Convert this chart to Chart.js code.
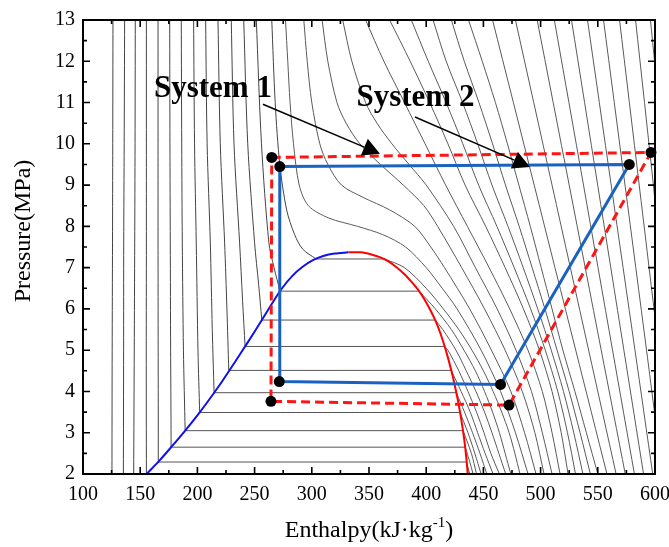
<!DOCTYPE html>
<html lang="en">
<head>
<meta charset="UTF-8">
<title>CO2 p-h diagram</title>
<style>
  html, body { margin: 0; padding: 0; background: #fff; }
  #wrap { width: 669px; height: 547px; }
</style>
</head>
<body>
<div id="wrap"><canvas id="myChart" width="669" height="547"></canvas></div>
<script src="https://cdn.jsdelivr.net/npm/chart.js@4.4.1/dist/chart.umd.min.js"></script>
<script>
// axis ticks
const xMajor = [100, 150, 200, 250, 300, 350, 400, 450, 500, 550, 600]
const xMinor = [125, 175, 225, 275, 325, 375, 425, 475, 525, 575]
const yMajor = [2, 3, 4, 5, 6, 7, 8, 9, 10, 11, 12, 13]
const yMinor = [2.5, 3.5, 4.5, 5.5, 6.5, 7.5, 8.5, 9.5, 10.5, 11.5, 12.5]

// saturation dome [h kJ/kg, p MPa]
const satLiquid = [[155.6, 2], [167, 2.33], [178, 2.68], [189, 3.04], [200, 3.42], [211, 3.83], [222, 4.26], [233, 4.72], [244, 5.19], [255, 5.67], [265, 6.12], [274, 6.5], [283, 6.8], [292, 7.02], [301, 7.18], [310, 7.28], [320, 7.34], [331.9, 7.37]]
const satVapor = [[331.9, 7.37], [343, 7.37], [352, 7.32], [360, 7.25], [367, 7.15], [374, 7.01], [381, 6.84], [387, 6.66], [393, 6.46], [398.5, 6.23], [403.5, 5.98], [408, 5.72], [412, 5.44], [415.7, 5.13], [419, 4.82], [422, 4.5], [424.8, 4.17], [427.4, 3.83], [429.7, 3.48], [431.8, 3.12], [433.6, 2.76], [435.1, 2.38], [436.3, 2]]

// two-phase isotherms (horizontal)
const tieP = [2.29, 2.65, 3.05, 3.49, 3.97, 4.51, 5.09, 5.73, 6.43, 7.21]
const tieHl = [165.8, 177, 189.3, 202, 214.6, 227.4, 241.7, 256.3, 272.3, 303.7]
const tieHv = [435.3, 434.1, 432.2, 429.6, 426.3, 421.9, 416.1, 407.9, 393.8, 363.5]

// liquid side isotherms (-35 .. 30 C)
const liquidIso = [
  [[126.2, 13], [126, 10], [125.8, 7.6], [125.5, 5], [125.3, 2]],
  [[136.4, 13], [136, 10], [135.6, 7.6], [135.5, 5], [135.3, 2]],
  [[145.7, 13], [145.5, 10], [145.2, 7.6], [144.8, 5], [144.3, 2]],
  [[155.4, 13], [155.4, 10], [155.4, 7.6], [155.3, 5], [155.4, 2]],
  [[165.6, 13], [165.6, 10], [165.6, 7.6], [165.7, 5], [165.8, 3.5], [165.8, 2.29]],
  [[175.8, 13], [176, 10], [176.3, 7.6], [176.6, 5], [176.9, 3.5], [177, 2.65]],
  [[185.9, 13], [186.3, 10], [186.8, 7.6], [187.8, 5], [189.3, 3.05]],
  [[196.7, 13], [197.5, 10], [199, 7.6], [200.5, 5], [202, 3.49]],
  [[207.2, 13], [208.5, 10], [211.3, 7.6], [213, 5.5], [214.6, 3.97]],
  [[218, 13], [220, 10], [223.8, 7.6], [225.8, 6], [227.4, 4.51]],
  [[229.6, 13], [232, 10], [236.9, 7.6], [239.5, 6.2], [241.7, 5.09]],
  [[240.5, 13], [244, 10], [250, 7.6], [253.5, 6.6], [256.3, 5.73]],
  [[251.5, 13], [256, 10], [262.5, 7.6], [267, 7], [272.3, 6.43]],
  [[265, 13], [268, 11], [272, 9.5], [278, 8.4], [285, 7.8], [292, 7.45], [303.7, 7.21]]
]

// vapour side isotherms (-15 .. 30 C)
const vaporIso = [
  [[435.3, 2.29], [438, 2]],
  [[434.1, 2.65], [438, 2.3], [441, 2]],
  [[432.2, 3.05], [439.5, 2.5], [444, 2]],
  [[429.6, 3.49], [436.5, 3], [442.5, 2.5], [448, 2]],
  [[426.3, 3.97], [433.5, 3.5], [440.5, 3], [447, 2.5], [453, 2]],
  [[421.9, 4.51], [430.5, 4], [438.5, 3.5], [445, 3], [451.5, 2.5], [458.5, 2]],
  [[416.1, 5.09], [419, 5], [428.5, 4.5], [436.5, 4], [444, 3.5], [450.5, 3], [456.5, 2.5], [464, 2]],
  [[407.9, 5.73], [414.5, 5.5], [426, 5], [435, 4.5], [443.5, 4], [451, 3.5], [457.5, 3], [463.5, 2.5], [469.5, 2]],
  [[393.8, 6.43], [408, 6], [422, 5.5], [433, 5], [443, 4.5], [451, 4], [458, 3.5], [464, 3], [469, 2.5], [474, 2]],
  [[363.5, 7.21], [381, 7], [400, 6.5], [415, 6], [428.5, 5.5], [440, 5], [450, 4.5], [458.5, 4], [466, 3.5], [472.5, 3], [477.5, 2.5], [482, 2]]
]

// supercritical isotherms (35 .. 130 C)
const superIso = [
  [[277, 13], [279, 12], [281, 11], [284, 10], [289, 9], [297, 8.5], [315, 8.2], [340, 8], [362, 7.8], [382, 7.5], [400, 7], [414, 6.5], [427, 6], [448, 5], [465, 4], [478, 3], [489, 2]],
  [[293, 13], [296, 12], [300, 11], [307, 10], [314, 9.5], [326, 9], [345, 8.7], [368, 8.4], [390, 8], [404, 7.5], [416, 7], [438, 6], [457, 5], [474, 4], [486, 3], [496, 2]],
  [[309, 13], [314, 12], [322, 11], [330, 10.5], [342, 10], [360, 9.5], [380, 9], [398, 8.5], [410, 8], [431, 7], [451, 6], [469, 5], [484, 4], [495, 3], [503, 2]],
  [[327, 13], [335, 12], [347, 11], [357, 10.5], [370, 10], [385, 9.5], [400, 9], [424, 8], [443, 7], [462, 6], [478.5, 5], [492, 4], [501.5, 3], [510, 2]],
  [[347, 13], [363, 12], [381, 11], [399, 10], [417, 9], [436, 8], [455, 7], [473, 6], [489, 5], [501.5, 4], [510, 3], [517, 2]],
  [[368, 13], [386, 12], [403, 11], [419, 10], [434, 9], [452, 8], [469, 7], [485, 6], [499, 5], [510, 4], [518, 3], [524, 2]],
  [[387, 13], [401.8, 12], [417.4, 11], [432, 10], [445.8, 9], [461.8, 8], [476.9, 7], [491.3, 6], [504.1, 5], [515, 4], [523.5, 3], [530.5, 2]],
  [[406, 13], [417.5, 12], [431.8, 11], [445, 10], [457.5, 9], [471.5, 8], [484.8, 7], [497.5, 6], [509.3, 5], [520, 4], [529, 3], [537, 2]],
  [[422, 13], [433.3, 12], [446.1, 11], [458, 10], [469.3, 9], [481.3, 8], [492.6, 7], [503.8, 6], [514.4, 5], [525, 4], [534.5, 3], [543.5, 2]],
  [[437, 13], [449, 12], [460.5, 11], [471, 10], [481, 9], [491, 8], [500.5, 7], [510, 6], [519.5, 5], [530, 4], [540, 3], [550, 2]],
  [[458, 13], [494.4, 9], [530.7, 5], [558, 2]],
  [[478, 13], [510, 9], [542, 5], [566, 2]],
  [[497, 13], [525, 9], [553, 5], [574, 2]],
  [[512, 13], [537.5, 9], [562.9, 5], [582, 2]],
  [[527, 13], [549.9, 9], [572.8, 5], [590, 2]],
  [[541, 13], [561.7, 9], [582.5, 5], [598, 2]],
  [[555, 13], [573.8, 9], [592.6, 5], [600, 3.4]],
  [[569, 13], [586.2, 9], [600, 5.8]],
  [[583, 13], [598.6, 9], [600, 8.6]],
  [[596, 13], [600, 11.9]]
]

// the two cycles
const system1 = [[272, 9.45], [577.5, 9.5], [465, 4.17], [271.6, 4.24], [272, 9.45]]
const system2 = [[265, 9.67], [596.5, 9.79], [472.4, 3.67], [264.3, 3.76], [265, 9.67]]

// labels and arrows
const noteText = ['System 1', 'System 2']
const notePos = [[162, 11.13], [339, 10.92]]
const arrowFrom = [[257.3, 10.96], [390.2, 10.65]]
const arrowTo = [[359.6, 9.76], [490.7, 9.44]]

const toXY = pts => pts.map(p => ({ x: p[0], y: p[1] }))
const serif = '"Liberation Serif", "Times New Roman", serif'

const datasets = []
datasets.push({
        data: toXY(system1.slice(0, 4).concat(system2.slice(0, 4))),
        showLine: false, pointRadius: 5.5, pointBackgroundColor: '#000', pointBorderWidth: 0,
        clip: false, order: 0
})
datasets.push({
        data: toXY(system1), showLine: true, borderColor: '#1a62c2', borderWidth: 3,
        pointRadius: 0, tension: 0, order: 1
})
datasets.push({
        data: toXY(system2), showLine: true, borderColor: '#ff1414', borderWidth: 3,
        borderDash: [9, 5], pointRadius: 0, tension: 0, order: 1
})
datasets.push({ data: toXY(satLiquid), showLine: true, borderColor: '#1010e8', borderWidth: 2, pointRadius: 0, tension: 0.3, order: 2 })
datasets.push({ data: toXY(satVapor), showLine: true, borderColor: '#ff0000', borderWidth: 2, pointRadius: 0, tension: 0.3, order: 2 })

tieP.forEach((p, i) => {
        datasets.push({
                data: [{ x: tieHl[i], y: p }, { x: tieHv[i], y: p }],
                showLine: true, borderColor: '#555', borderWidth: 1, pointRadius: 0, order: 3
        })
})
liquidIso.forEach(line => {
        datasets.push({
                data: toXY(line), showLine: true, borderColor: '#444', borderWidth: 1,
                pointRadius: 0, tension: 0.3, order: 4
        })
})
vaporIso.concat(superIso).forEach(line => {
        datasets.push({
                data: toXY(line), showLine: true, borderColor: '#5a5a5a', borderWidth: 1,
                pointRadius: 0, tension: 0.3, order: 4
        })
})

// frame with inward ticks on all four sides, axis titles, notes and arrows
const decor = {
        id: 'decor',
        afterDatasetsDraw(chart) {
                const { ctx, chartArea: a, scales: { x, y } } = chart
                ctx.save()
                ctx.strokeStyle = '#000'
                ctx.lineWidth = 2
                ctx.strokeRect(a.left, a.top, a.right - a.left, a.bottom - a.top)
                ctx.lineWidth = 1.6
                ctx.beginPath()
                const tx = (v, len) => {
                        const px = x.getPixelForValue(v)
                        ctx.moveTo(px, a.bottom); ctx.lineTo(px, a.bottom - len)
                        ctx.moveTo(px, a.top); ctx.lineTo(px, a.top + len)
                }
                const ty = (v, len) => {
                        const py = y.getPixelForValue(v)
                        ctx.moveTo(a.left, py); ctx.lineTo(a.left + len, py)
                        ctx.moveTo(a.right, py); ctx.lineTo(a.right - len, py)
                }
                xMajor.forEach(v => tx(v, 7)); xMinor.forEach(v => tx(v, 4))
                yMajor.forEach(v => ty(v, 7)); yMinor.forEach(v => ty(v, 4))
                ctx.stroke()

                // notes
                ctx.fillStyle = '#000'
                ctx.font = 'bold 31px ' + serif
                ctx.textAlign = 'left'
                ctx.textBaseline = 'alphabetic'
                noteText.forEach((t, i) => {
                        ctx.fillText(t, x.getPixelForValue(notePos[i][0]), y.getPixelForValue(notePos[i][1]))
                })
                ctx.lineWidth = 1.5
                arrowFrom.forEach((f, i) => {
                        const x0 = x.getPixelForValue(f[0]), y0 = y.getPixelForValue(f[1])
                        const x1 = x.getPixelForValue(arrowTo[i][0]), y1 = y.getPixelForValue(arrowTo[i][1])
                        const ang = Math.atan2(y1 - y0, x1 - x0)
                        const L = 17, W = 9
                        const bx = x1 - L * Math.cos(ang), by = y1 - L * Math.sin(ang)
                        ctx.beginPath(); ctx.moveTo(x0, y0); ctx.lineTo(bx, by); ctx.stroke()
                        ctx.beginPath()
                        ctx.moveTo(x1, y1)
                        ctx.lineTo(bx + W * Math.sin(ang), by - W * Math.cos(ang))
                        ctx.lineTo(bx - W * Math.sin(ang), by + W * Math.cos(ang))
                        ctx.closePath(); ctx.fill()
                })

                // axis titles
                ctx.font = '24px ' + serif
                ctx.textAlign = 'center'
                ctx.save()
                ctx.translate(30, 231)
                ctx.rotate(-Math.PI / 2)
                ctx.fillText('Pressure(MPa)', 0, 0)
                ctx.restore()

                const main = 'Enthalpy(kJ\u00b7kg', sup = '-1', tail = ')'
                ctx.textAlign = 'left'
                const w1 = ctx.measureText(main).width, w3 = ctx.measureText(tail).width
                ctx.font = '15px ' + serif
                const w2 = ctx.measureText(sup).width
                const x0 = (a.left + a.right) / 2 - (w1 + w2 + w3) / 2
                const base = 537
                ctx.font = '24px ' + serif
                ctx.fillText(main, x0, base)
                ctx.font = '15px ' + serif
                ctx.fillText(sup, x0 + w1, base - 10)
                ctx.font = '24px ' + serif
                ctx.fillText(tail, x0 + w1 + w2, base)
                ctx.restore()
        }
}

const ctx = document.getElementById('myChart')
new Chart(ctx, {
        type: 'scatter',
        data: { datasets: datasets },
        options: {
                responsive: false,
                animation: false,
                events: [],
                layout: { padding: { top: 15, right: 14, left: 0, bottom: 0 } },
                plugins: { legend: { display: false }, tooltip: { enabled: false } },
                scales: {
                        x: {
                                min: 100, max: 600,
                                grid: { display: false, drawTicks: false },
                                border: { display: false },
                                ticks: { stepSize: 50, padding: 9, color: '#000', font: { family: serif, size: 20 } },
                                afterFit: s => { s.height = 73; s.paddingLeft = 0; s.paddingRight = 0 }
                        },
                        y: {
                                min: 2, max: 13,
                                grid: { display: false, drawTicks: false },
                                border: { display: false },
                                ticks: { stepSize: 1, padding: 8, color: '#000', font: { family: serif, size: 20 } },
                                afterFit: s => { s.width = 83 }
                        }
                }
        },
        plugins: [decor]
})
</script>
</body>
</html>
